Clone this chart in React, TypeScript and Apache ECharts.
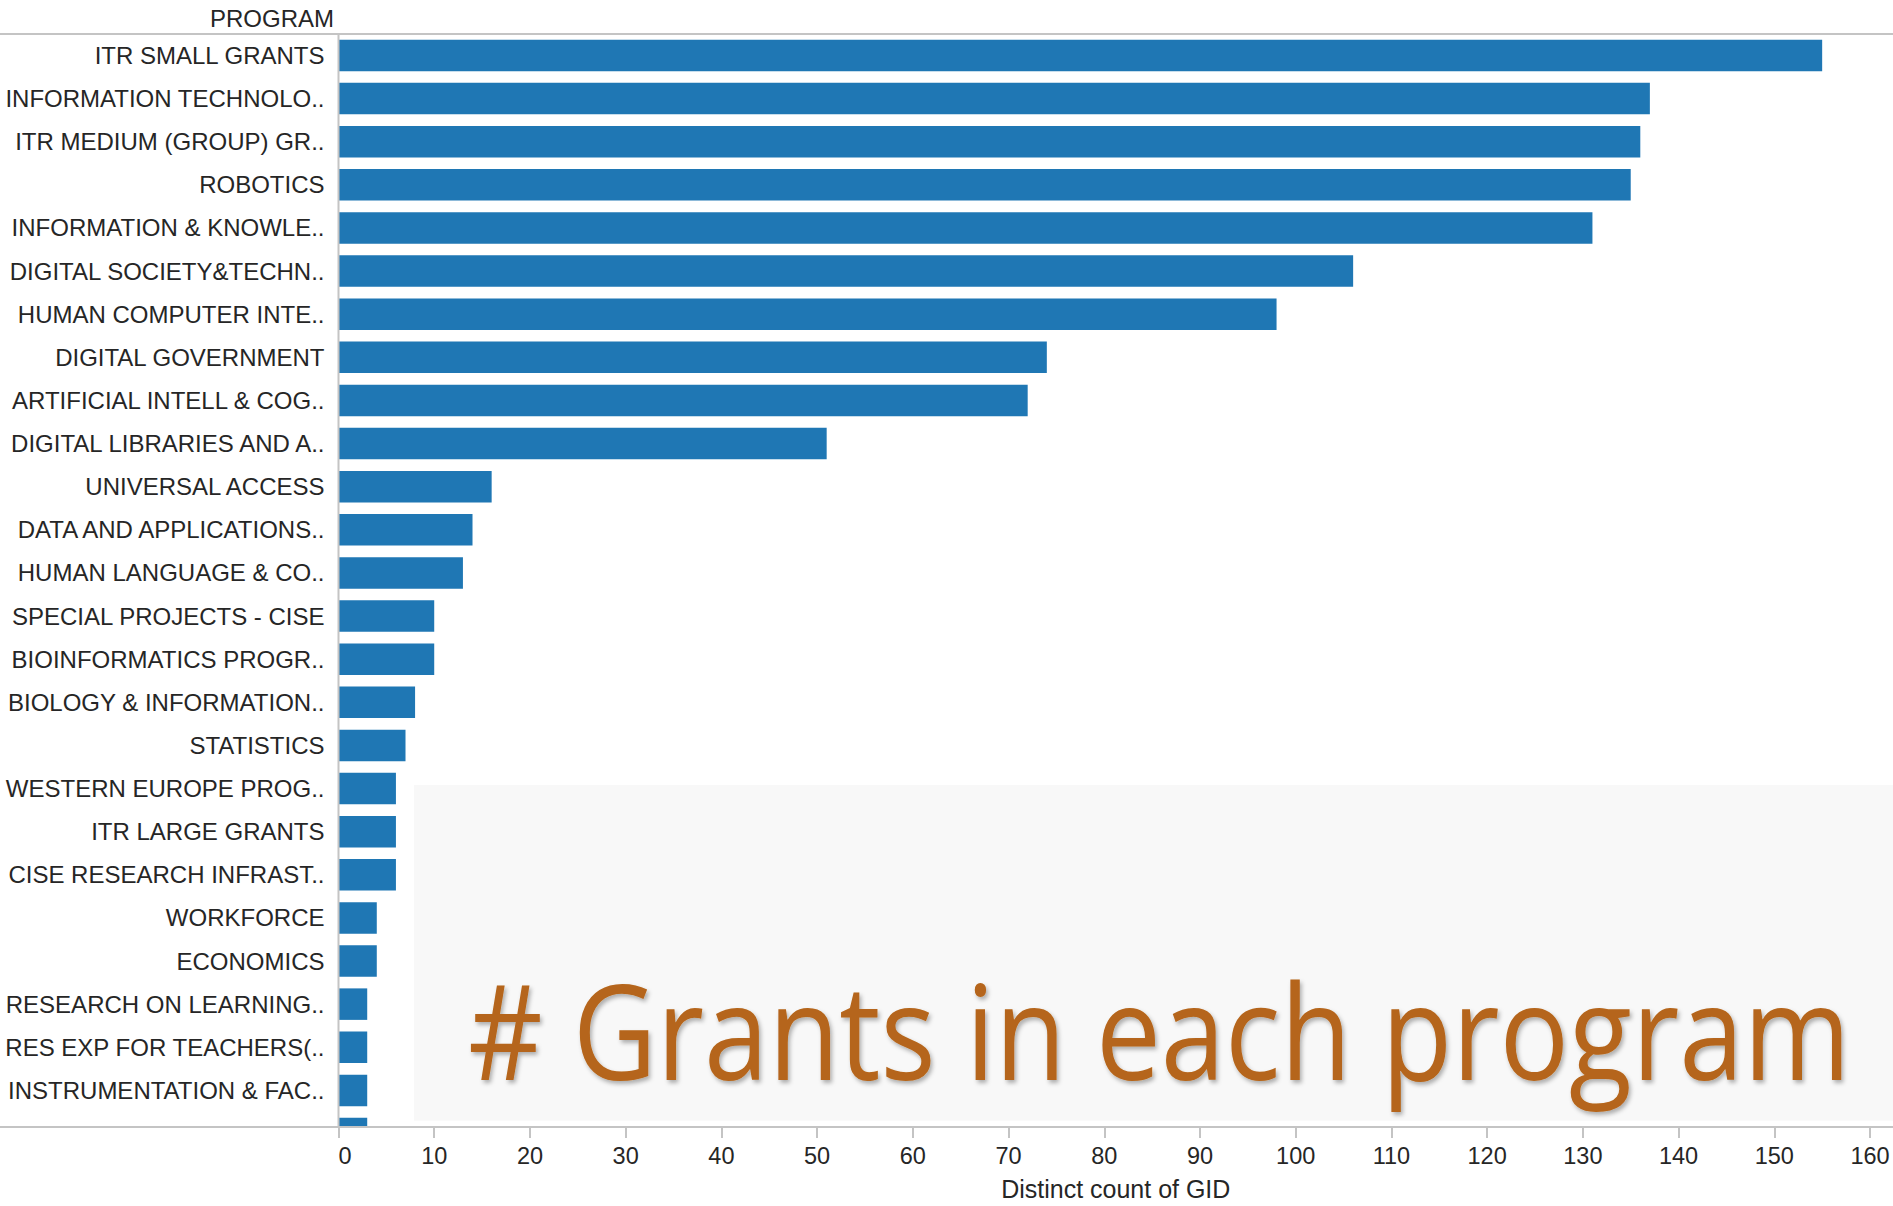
import React, { useEffect, useRef } from "react";
import * as echarts from "echarts";

const categories = [
  "ITR SMALL GRANTS",
  "INFORMATION TECHNOLO..",
  "ITR MEDIUM (GROUP) GR..",
  "ROBOTICS",
  "INFORMATION & KNOWLE..",
  "DIGITAL SOCIETY&TECHN..",
  "HUMAN COMPUTER INTE..",
  "DIGITAL GOVERNMENT",
  "ARTIFICIAL INTELL & COG..",
  "DIGITAL LIBRARIES AND A..",
  "UNIVERSAL ACCESS",
  "DATA AND APPLICATIONS..",
  "HUMAN LANGUAGE & CO..",
  "SPECIAL PROJECTS - CISE",
  "BIOINFORMATICS PROGR..",
  "BIOLOGY & INFORMATION..",
  "STATISTICS",
  "WESTERN EUROPE PROG..",
  "ITR LARGE GRANTS",
  "CISE RESEARCH INFRAST..",
  "WORKFORCE",
  "ECONOMICS",
  "RESEARCH ON LEARNING..",
  "RES EXP FOR TEACHERS(..",
  "INSTRUMENTATION & FAC..",
  "",
];
const grants = [155, 137, 136, 135, 131, 106, 98, 74, 72, 51, 16, 14, 13, 10, 10, 8, 7, 6, 6, 6, 4, 4, 3, 3, 3, 3];

const xTitle = "Distinct count of GID";
const yHeader = "PROGRAM";
const overlayTitle = "# Grants in each program";

const W = 1893;
const H = 1206;
const GRID_LEFT = 338.5;
const GRID_TOP = 33.9;
const BAND = 43.16;
const AXIS_Y = 1127;
const LABEL_FONT = "'Liberation Sans', Arial, sans-serif";
const TEXT_COLOR = "#262626";
const LINE_COLOR = "#c4c4c4";

export default function App() {
  const ref = useRef<HTMLDivElement>(null);
  useEffect(() => {
    if (!ref.current) return;
    const chart = echarts.init(ref.current, null, { renderer: "svg" });
    const gridHeight = BAND * categories.length;
    const gridBottom = GRID_TOP + gridHeight;
    chart.setOption({
      animation: false,
      backgroundColor: "#ffffff",
      grid: { left: GRID_LEFT, top: GRID_TOP, width: W - GRID_LEFT, height: gridHeight, containLabel: false },
      xAxis: {
        type: "value",
        min: 0,
        max: 162.4,
        interval: 10,
        position: "bottom",
        offset: AXIS_Y - gridBottom,
        z: 10,
        splitLine: { show: false },
        axisLine: { show: false },
        axisTick: { show: true, length: 12, lineStyle: { color: LINE_COLOR, width: 2 } },
        axisLabel: {
          fontSize: 23.5,
          fontFamily: LABEL_FONT,
          color: TEXT_COLOR,
          margin: 18,
          showMaxLabel: false,
          alignMinLabel: "left",
          padding: [0, 0, 0, 0],
          formatter: (v: number) => (v % 10 === 0 ? String(v) : ""),
        },
        name: xTitle,
        nameLocation: "middle",
        nameGap: 50,
        nameTextStyle: { fontSize: 25, fontFamily: LABEL_FONT, color: TEXT_COLOR },
      },
      yAxis: {
        type: "category",
        inverse: true,
        data: categories,
        axisLine: { show: false },
        axisTick: { show: false },
        axisLabel: {
          interval: 0,
          fontSize: 24,
          fontFamily: LABEL_FONT,
          color: TEXT_COLOR,
          margin: 14,
        },
      },
      series: [
        {
          type: "bar",
          data: grants,
          barWidth: 31.5,
          itemStyle: { color: "#1f77b4" },
          z: 2,
        },
      ],
      graphic: [
        {
          type: "rect",
          z: 1,
          shape: { x: 414, y: 785, width: W - 414, height: 1120.7 - 785 },
          style: { fill: "#f8f8f8" },
        },
        {
          type: "rect",
          z: 5,
          shape: { x: 330, y: 1128, width: 100, height: 26 },
          style: { fill: "#ffffff" },
        },
        {
          type: "line",
          z: 7,
          shape: { x1: 0, y1: GRID_TOP, x2: W, y2: GRID_TOP },
          style: { stroke: LINE_COLOR, lineWidth: 2 },
        },
        {
          type: "line",
          z: 7,
          shape: { x1: 0, y1: AXIS_Y, x2: W, y2: AXIS_Y },
          style: { stroke: LINE_COLOR, lineWidth: 2 },
        },
        {
          type: "line",
          z: 7,
          shape: { x1: GRID_LEFT, y1: GRID_TOP, x2: GRID_LEFT, y2: AXIS_Y },
          style: { stroke: LINE_COLOR, lineWidth: 2 },
        },
        {
          type: "text",
          z: 7,
          x: 334,
          y: 18,
          style: {
            text: yHeader,
            fontSize: 24,
            fontFamily: LABEL_FONT,
            fill: TEXT_COLOR,
            align: "right",
            verticalAlign: "middle",
          },
        },
        {
          type: "text",
          z: 8,
          x: 468,
          y: 1029,
          scaleX: 0.883,
          style: {
            text: overlayTitle,
            fontSize: 131,
            fontFamily: "'Open Sans', 'Noto Sans', sans-serif",
            fill: "#b5651a",
            align: "left",
            verticalAlign: "middle",
            textShadowColor: "rgba(0,0,0,0.3)",
            textShadowBlur: 4,
            textShadowOffsetX: 2,
            textShadowOffsetY: 3,
          },
        },
      ],
    });
    return () => chart.dispose();
  }, []);
  return (
    <div
      ref={ref}
      style={{ position: "fixed", left: 0, top: 0, width: W + "px", height: H + "px", background: "#fff" }}
    />
  );
}
